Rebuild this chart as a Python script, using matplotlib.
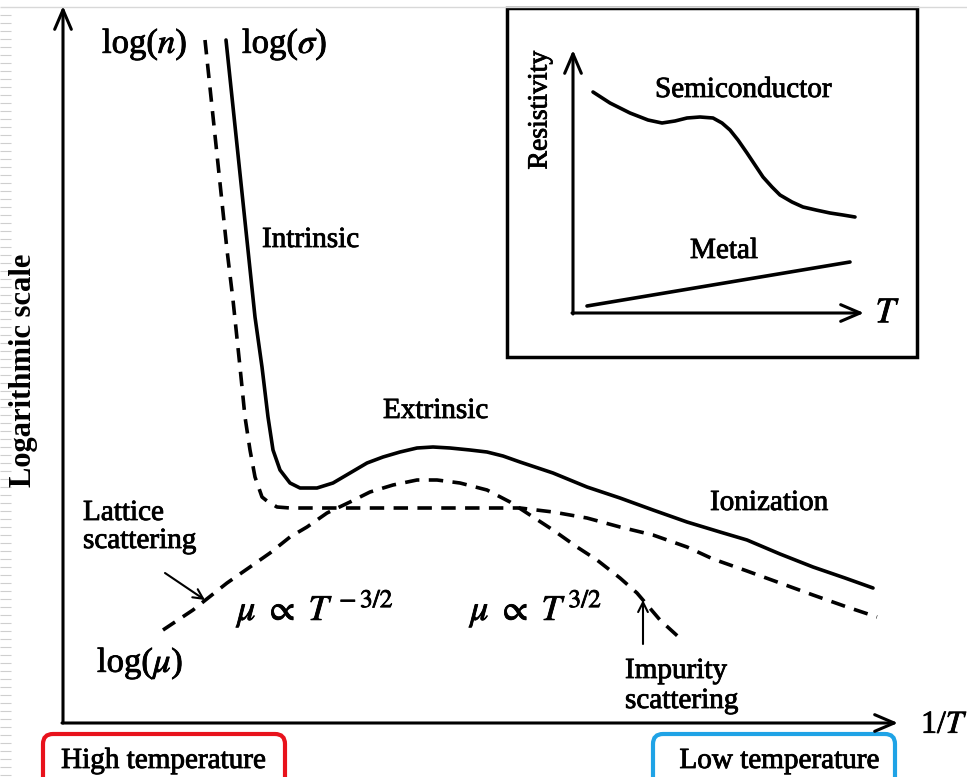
import numpy as np
import matplotlib
matplotlib.use("Agg")
import matplotlib.pyplot as plt
import matplotlib.patheffects as pe
from matplotlib.patches import Rectangle, FancyBboxPatch

plt.rcParams['font.family'] = ['Liberation Serif', 'DejaVu Serif']
plt.rcParams['mathtext.fontset'] = 'stix'

# Main diagram curves (x grows with 1/T, y is log scale, drawn in canvas units)
sigma_x = [226, 248, 255, 262, 268, 273, 280, 290, 300, 317, 333, 350, 367, 383,
           400, 417, 433, 450, 470, 487, 503, 520, 553, 587, 620, 653, 687, 720,
           747, 780, 813, 845, 873]
sigma_y = [40, 250, 317, 367, 417, 450, 470, 483, 488, 488, 483, 473, 463, 457,
           452, 448, 447, 448, 450, 452, 456, 462, 473, 487, 498, 510, 522, 532,
           540, 554, 567, 578, 588]

n_x = [205, 227, 233, 240, 245, 250, 255, 262, 267, 277, 290, 303, 400, 520,
       553, 587, 620, 653, 687, 713, 747, 780, 813, 847, 877]
n_y = [40, 250, 300, 367, 417, 450, 477, 497, 501, 507, 508, 508, 508, 508,
       512, 518, 527, 535, 547, 559, 571, 583, 595, 607, 617]

mu_x = [163, 193, 203, 227, 250, 270, 290, 307, 327, 350, 370, 393, 417, 437,
        460, 487, 510, 530, 553, 577, 597, 620, 637, 660, 683]
mu_y = [630, 610, 602, 583, 567, 553, 537, 527, 513, 502, 492, 485, 480, 480,
        483, 490, 502, 515, 530, 547, 560, 578, 593, 620, 641]

# Inset curves: resistivity against temperature
semi_x = [593, 610, 630, 648, 662, 675, 687, 700, 713, 722, 730, 738, 747, 755,
          763, 772, 780, 792, 803, 816, 830, 843, 855]
semi_y = [92, 103, 113, 120, 123, 121, 118, 117, 118, 123, 130, 140, 153, 165,
          177, 187, 195, 202, 207, 210, 213, 215, 217]
metal_x = [587, 850]
metal_y = [306, 262]

fig = plt.figure(figsize=(9.67, 7.77), dpi=100)
ax = fig.add_axes([0, 0, 1, 1])
ax.set_xlim(0, 967)
ax.set_ylim(777, 0)
ax.axis('off')

# slide ruler marks on the left edge and the faint line at the top
ax.hlines(np.arange(15, 777, 8), 0, 11, color='#cfcfcf', lw=0.8)
ax.hlines(7, 0, 967, color='#d8d8d8', lw=1)

lw = 2.6
dash = (4, 2.6)
heavy = [pe.withStroke(linewidth=0.6, foreground='black')]

# main axes with open arrow heads
axis_arrow = dict(arrowstyle='->,head_length=1.4,head_width=0.6', lw=2.2, color='black',
                  shrinkA=0, shrinkB=0)
ax.annotate('', xy=(63, 6), xytext=(63, 723), arrowprops=axis_arrow)
ax.annotate('', xy=(898, 723), xytext=(62, 723), arrowprops=axis_arrow)

ax.plot(sigma_x, sigma_y, color='black', lw=lw, solid_capstyle='round',
        solid_joinstyle='round')
ax.plot(n_x, n_y, color='black', lw=lw, dashes=dash)
ax.plot(mu_x, mu_y, color='black', lw=lw, dashes=dash)

small_arrow = dict(arrowstyle='->,head_length=0.7,head_width=0.35', lw=1.5, color='black',
                   shrinkA=0, shrinkB=0)
ax.annotate('', xy=(205, 600), xytext=(165, 573), arrowprops=small_arrow)
ax.annotate('', xy=(643, 600), xytext=(643, 644), arrowprops=small_arrow)

fs = 21
labels = [
    (102, 53, 'log($n$)', 25),
    (242, 53, r'log($\sigma$)', 25),
    (262, 247, 'Intrinsic', fs),
    (383, 418, 'Extrinsic', fs),
    (710, 510, 'Ionization', fs),
    (83, 520, 'Lattice', fs),
    (83, 548, 'scattering', fs),
    (237, 620, r'$\mu\ \propto\ T^{\,-3/2}$', 26),
    (470, 620, r'$\mu\ \propto\ T^{\,3/2}$', 26),
    (97, 672, r'log($\mu$)', 25),
    (625, 678, 'Impurity', fs),
    (625, 708, 'scattering', fs),
    (921, 733, '1/$T$', 23),
    (655, 97, 'Semiconductor', fs),
    (690, 258, 'Metal', fs),
]
for x, y, s, size in labels:
    ax.text(x, y, s, fontsize=size, va='baseline', path_effects=heavy)

ax.text(24, 370, 'Logarithmic scale', fontsize=22, fontweight='bold', rotation=90,
        ha='center', va='center')

# temperature tags under the horizontal axis
ax.add_patch(FancyBboxPatch((43, 734), 242, 60, boxstyle='round,pad=0,rounding_size=10',
                            fc='white', ec='#e8121c', lw=3))
ax.text(163, 768, 'High temperature', fontsize=fs, ha='center', va='baseline',
        path_effects=heavy)
ax.add_patch(FancyBboxPatch((653, 734), 242, 60, boxstyle='round,pad=0,rounding_size=10',
                            fc='white', ec='#1fa3e6', lw=3))
ax.text(779, 768, 'Low temperature', fontsize=fs, ha='center', va='baseline',
        path_effects=heavy)

# inset: resistivity of a semiconductor and a metal
ax.add_patch(Rectangle((507, 8), 410, 349, fc='white', ec='black', lw=2.5, zorder=0))
ax.annotate('', xy=(573, 50), xytext=(573, 314), arrowprops=axis_arrow)
ax.annotate('', xy=(864, 313), xytext=(572, 313), arrowprops=axis_arrow)
ax.plot(semi_x, semi_y, color='black', lw=lw, solid_capstyle='round',
        solid_joinstyle='round')
ax.plot(metal_x, metal_y, color='black', lw=lw, solid_capstyle='round')
ax.text(540, 110, 'Resistivity', fontsize=20, rotation=90, ha='center', va='center',
        path_effects=heavy)
ax.text(888, 314, '$T$', fontsize=26, ha='center', va='center', path_effects=heavy)

fig.savefig('out.png', dpi=100)
